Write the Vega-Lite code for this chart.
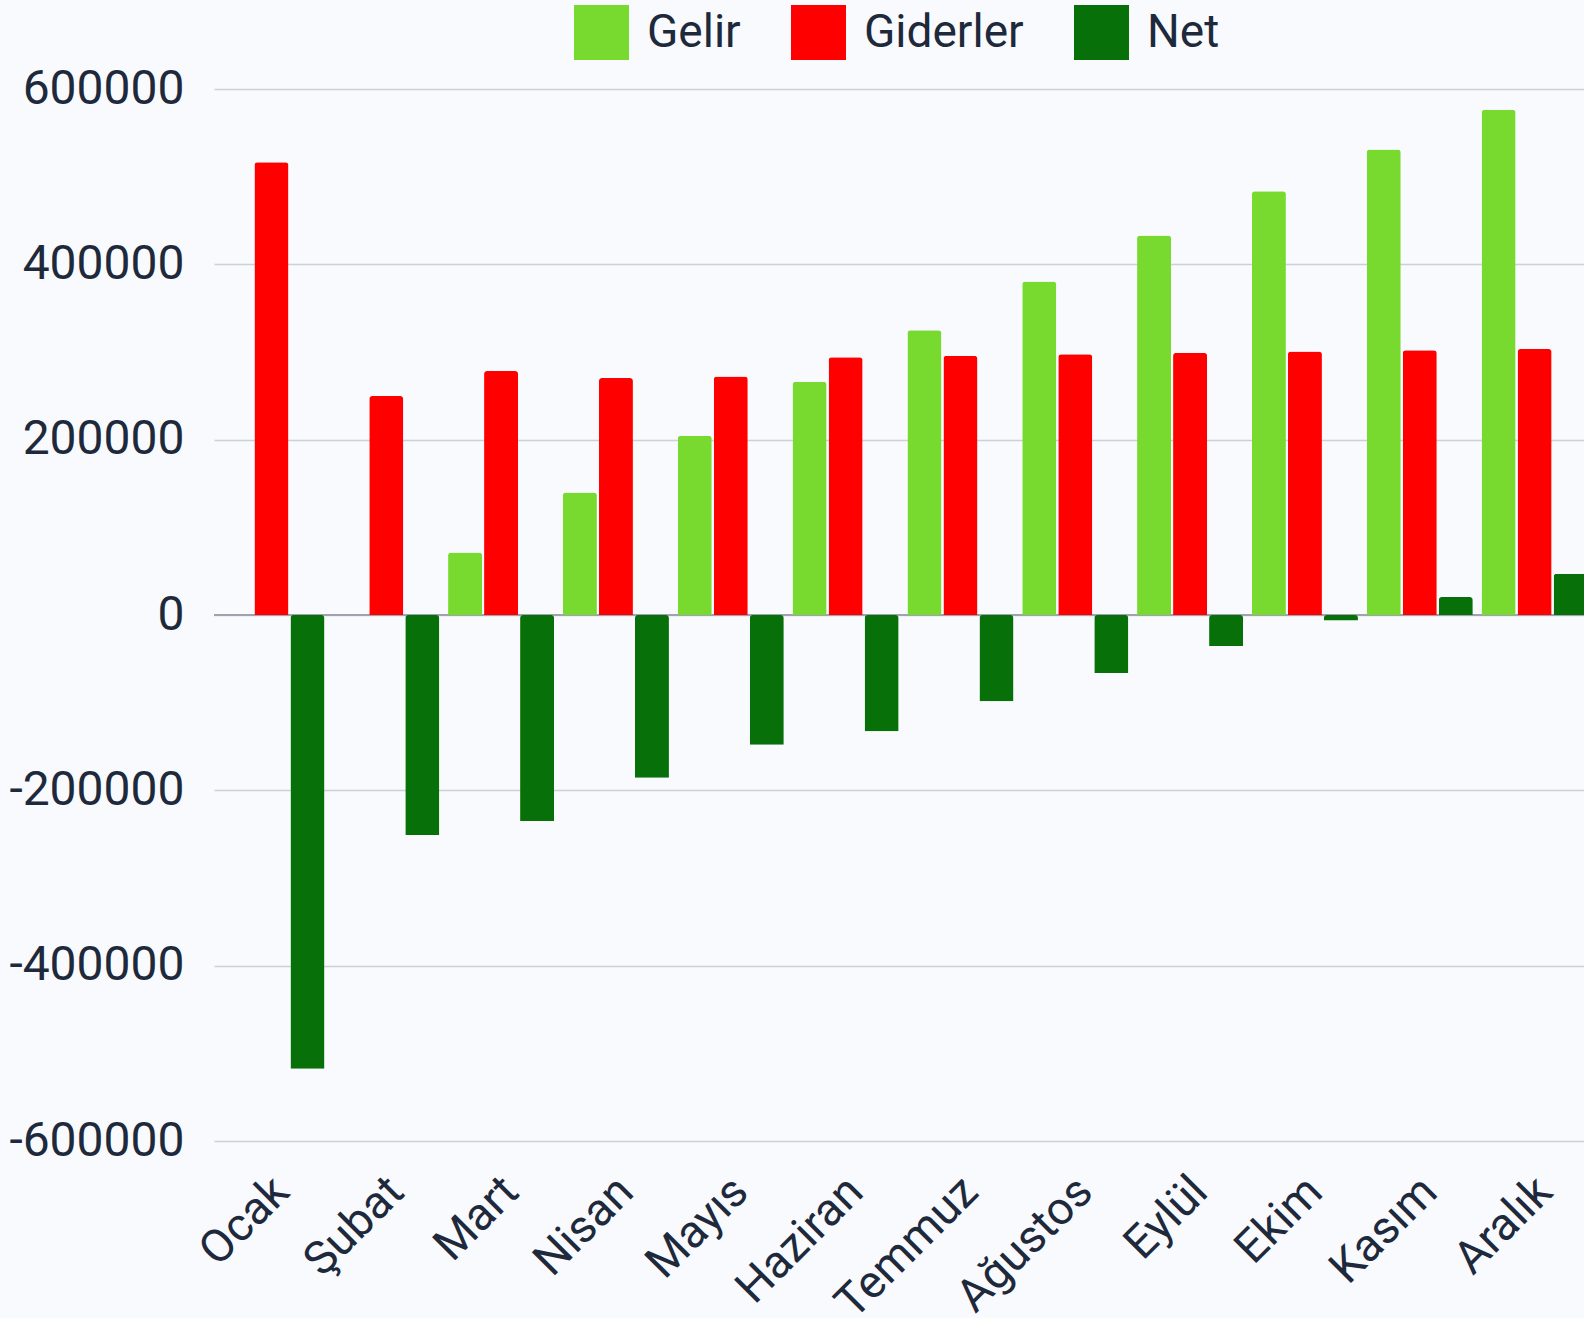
{
  "$schema": "https://vega.github.io/schema/vega-lite/v6.json",
  "width": 1370,
  "height": 1052,
  "autosize": {"type": "none"},
  "padding": {"left": 214, "top": 89, "right": 0, "bottom": 177},
  "background": "#f8fafe",
  "config": {
    "view": {"stroke": null},
    "font": "Roboto",
    "axis": {"labelFont": "Roboto", "labelColor": "#1e293b"},
    "legend": {"labelFont": "Roboto", "labelColor": "#1e293b"}
  },
  "data": {
    "values": [
      {"ay": "Ocak", "seri": "Gelir", "deger": 0},
      {"ay": "Ocak", "seri": "Giderler", "deger": 516500},
      {"ay": "Ocak", "seri": "Net", "deger": -517500},
      {"ay": "Şubat", "seri": "Gelir", "deger": 0},
      {"ay": "Şubat", "seri": "Giderler", "deger": 249800},
      {"ay": "Şubat", "seri": "Net", "deger": -251000},
      {"ay": "Mart", "seri": "Gelir", "deger": 71200},
      {"ay": "Mart", "seri": "Giderler", "deger": 278300},
      {"ay": "Mart", "seri": "Net", "deger": -235000},
      {"ay": "Nisan", "seri": "Gelir", "deger": 139800},
      {"ay": "Nisan", "seri": "Giderler", "deger": 270200},
      {"ay": "Nisan", "seri": "Net", "deger": -185700},
      {"ay": "Mayıs", "seri": "Gelir", "deger": 204400},
      {"ay": "Mayıs", "seri": "Giderler", "deger": 272000},
      {"ay": "Mayıs", "seri": "Net", "deger": -148100},
      {"ay": "Haziran", "seri": "Gelir", "deger": 266000},
      {"ay": "Haziran", "seri": "Giderler", "deger": 294000},
      {"ay": "Haziran", "seri": "Net", "deger": -132500},
      {"ay": "Temmuz", "seri": "Gelir", "deger": 324800},
      {"ay": "Temmuz", "seri": "Giderler", "deger": 295600},
      {"ay": "Temmuz", "seri": "Net", "deger": -98300},
      {"ay": "Ağustos", "seri": "Gelir", "deger": 380300},
      {"ay": "Ağustos", "seri": "Giderler", "deger": 297500},
      {"ay": "Ağustos", "seri": "Net", "deger": -66100},
      {"ay": "Eylül", "seri": "Gelir", "deger": 433000},
      {"ay": "Eylül", "seri": "Giderler", "deger": 299000},
      {"ay": "Eylül", "seri": "Net", "deger": -35300},
      {"ay": "Ekim", "seri": "Gelir", "deger": 483500},
      {"ay": "Ekim", "seri": "Giderler", "deger": 300500},
      {"ay": "Ekim", "seri": "Net", "deger": -6400},
      {"ay": "Kasım", "seri": "Gelir", "deger": 531000},
      {"ay": "Kasım", "seri": "Giderler", "deger": 302100},
      {"ay": "Kasım", "seri": "Net", "deger": 20400},
      {"ay": "Aralık", "seri": "Gelir", "deger": 576400},
      {"ay": "Aralık", "seri": "Giderler", "deger": 303300},
      {"ay": "Aralık", "seri": "Net", "deger": 47100}
    ]
  },
  "layer": [
    {
      "mark": {"type": "rule", "color": "#9ea3ad", "strokeWidth": 2},
      "encoding": {"y": {"datum": 0, "type": "quantitative"}}
    },
    {
      "mark": {"type": "bar", "cornerRadiusEnd": 3},
      "encoding": {
        "x": {
          "field": "ay",
          "type": "nominal",
          "sort": ["Ocak", "Şubat", "Mart", "Nisan", "Mayıs", "Haziran", "Temmuz", "Ağustos", "Eylül", "Ekim", "Kasım", "Aralık"],
          "scale": {"paddingInner": 0, "paddingOuter": 0, "rangeMax": 1378},
          "axis": {
            "title": null,
            "domain": false,
            "ticks": false,
            "grid": false,
            "labelAngle": -45,
            "labelAlign": "right",
            "labelBaseline": "middle",
            "labelFontSize": 46,
            "labelPadding": 43,
            "labelOffset": 10,
            "labelLimit": 0
          }
        },
        "xOffset": {
          "field": "seri",
          "type": "nominal",
          "sort": ["Gelir", "Giderler", "Net"],
          "scale": {"paddingInner": 0.056, "paddingOuter": 0.122}
        },
        "y": {
          "field": "deger",
          "type": "quantitative",
          "scale": {"domain": [-600000, 600000], "nice": false},
          "axis": {
            "title": null,
            "domain": false,
            "ticks": false,
            "grid": true,
            "values": [-600000, -400000, -200000, 0, 200000, 400000, 600000],
            "labelExpr": "'' + datum.value",
            "labelFontSize": 48,
            "labelPadding": 30,
            "gridColor": "#cdd0d6",
            "gridWidth": 1.5
          }
        },
        "color": {
          "field": "seri",
          "type": "nominal",
          "scale": {"domain": ["Gelir", "Giderler", "Net"], "range": ["#78da2e", "#ff0000", "#087008"]},
          "legend": {
            "title": null,
            "orient": "none",
            "legendX": 360,
            "legendY": -84,
            "direction": "horizontal",
            "symbolType": "square",
            "symbolSize": 3025,
            "symbolStrokeWidth": 0,
            "labelFontSize": 46,
            "labelOffset": 18,
            "columnPadding": 50,
            "padding": 0
          }
        }
      }
    }
  ]
}
